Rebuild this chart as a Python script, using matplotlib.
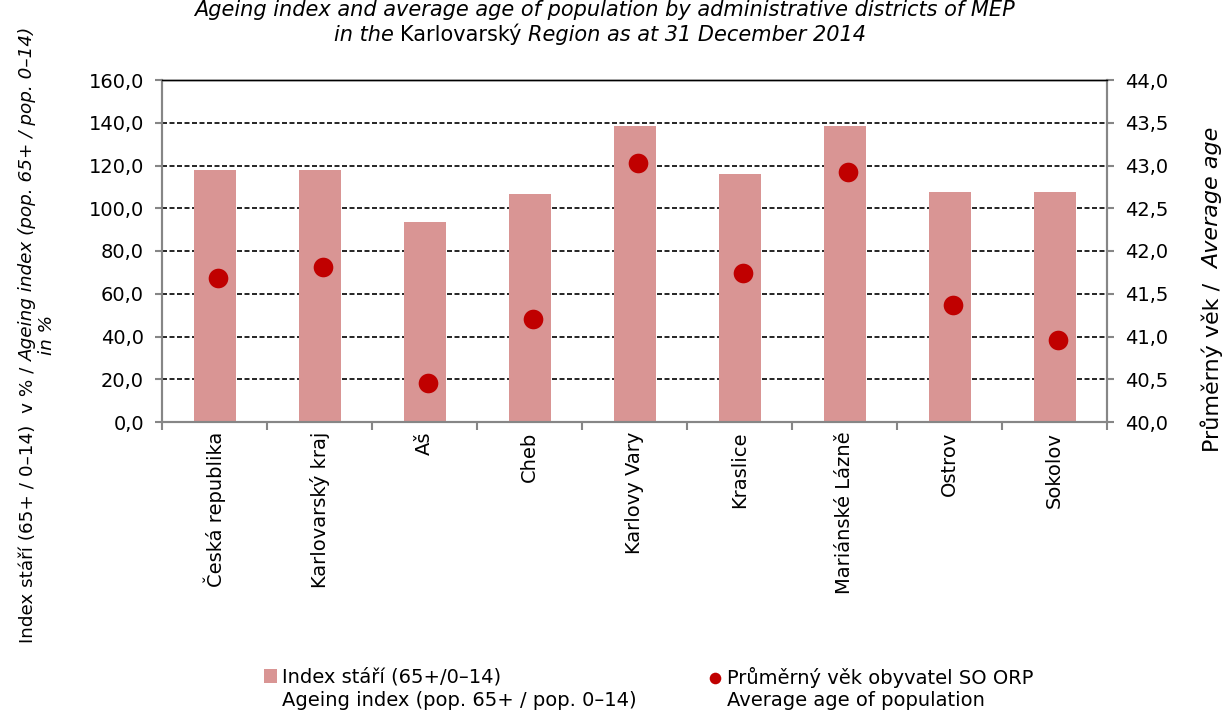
import matplotlib
matplotlib.use('Agg')
import numpy as np
import matplotlib.pyplot as plt
from matplotlib.ticker import FuncFormatter, FixedLocator

plt.rcParams['font.family'] = ['DejaVu Sans']

W, H = 1224, 711

# data
districts = ['Česká republika', 'Karlovarský kraj', 'Aš', 'Cheb', 'Karlovy Vary',
             'Kraslice', 'Mariánské Lázně', 'Ostrov', 'Sokolov']
ageing_index = [117.9, 117.9, 93.6, 106.7, 138.3, 116.0, 138.3, 107.6, 107.6]
average_age = [41.69, 41.81, 40.46, 41.21, 43.03, 41.74, 42.92, 41.37, 40.96]

left_ticks = [0, 20, 40, 60, 80, 100, 120, 140, 160]
right_ticks = [40.0, 40.5, 41.0, 41.5, 42.0, 42.5, 43.0, 43.5, 44.0]

bar_color = '#D99594'
dot_color = '#C00000'
spine_gray = '#868686'
fs = 14

fig = plt.figure(figsize=(W / 100, H / 100), dpi=100)
ax = fig.add_axes([162 / W, 1 - 422 / H, (1107 - 162) / W, (422 - 80) / H])
ax2 = ax.twinx()

x = np.arange(len(districts))
ax.bar(x, ageing_index, width=0.4, color=bar_color, zorder=2)
ax2.scatter(x + 0.03, average_age, s=200, color=dot_color, zorder=3, linewidths=0)

ax.set_xlim(-0.5, len(districts) - 0.5)
ax.set_ylim(0, 160)
ax2.set_ylim(40, 44)

comma = FuncFormatter(lambda v, p: ('%.1f' % v).replace('.', ','))
ax.yaxis.set_major_locator(FixedLocator(left_ticks))
ax.yaxis.set_major_formatter(comma)
ax2.yaxis.set_major_locator(FixedLocator(right_ticks))
ax2.yaxis.set_major_formatter(comma)

ax.set_xticks(x)
ax.set_xticklabels(districts, rotation=90, fontsize=fs)
ax.set_xticks(np.arange(len(districts) + 1) - 0.5, minor=True)
ax.tick_params(axis='x', which='major', length=0, pad=7)
ax.tick_params(axis='x', which='minor', length=6, width=1.5, color=spine_gray)
ax.tick_params(axis='y', length=5, width=1.5, color=spine_gray, labelsize=fs, pad=8)
ax2.tick_params(axis='y', length=5, width=1.5, color=spine_gray, labelsize=fs, pad=8)

# dashed horizontal grid behind the bars
ax.set_axisbelow(True)
ax.yaxis.grid(True, color='black', linestyle=(0, (3, 1.5)), linewidth=1.2, zorder=0)

for a in (ax, ax2):
    for side in ('left', 'right', 'bottom'):
        a.spines[side].set_color(spine_gray)
        a.spines[side].set_linewidth(1.5)
    a.spines['top'].set_color('black')
    a.spines['top'].set_linewidth(1.0)

renderer = fig.canvas.get_renderer()


def mixed_text(pieces, cx, cy, rotation=0, size=fs):
    # pieces of (text, style) laid end to end and centred on (cx, cy) in pixels from top-left
    space_px = size * 100 / 72 * 0.318
    items = []
    for s, st in pieces:
        lead = len(s) - len(s.lstrip(' '))
        trail = len(s) - len(s.rstrip(' '))
        t = fig.text(0, 0, s.strip(), fontsize=size, style=st, rotation=rotation,
                     rotation_mode='anchor', ha='left', va='baseline')
        bb = t.get_window_extent(renderer)
        w = bb.width if rotation == 0 else bb.height
        items.append((t, lead * space_px, w, trail * space_px))
    total = sum(a + b + c for _, a, b, c in items)
    pos = 0
    for t, lead, w, trail in items:
        pos += lead
        if rotation == 0:
            t.set_position(((cx - total / 2 + pos) / W, 1 - cy / H))
        else:
            t.set_position((cx / W, 1 - (cy + total / 2 - pos) / H))
        pos += w + trail


# title
fig.text(604 / W, 1 - 16 / H,
         'Ageing index and average age of population by administrative districts of MEP',
         ha='center', va='baseline', fontsize=15, style='italic')
mixed_text([('in the ', 'italic'), ('Karlovarský ', 'normal'),
            ('Region as at 31 December 2014', 'italic')], 600, 41, size=15)

# axis titles
mixed_text([('Index stáří (65+ / 0–14)  v % / ', 'normal'),
            ('Ageing index (pop. 65+ / pop. 0–14)', 'italic')], 33, 335, rotation=90, size=13.2)
mixed_text([('in %', 'italic')], 52, 335, rotation=90, size=13.2)
mixed_text([('Průměrný věk /  ', 'normal'), ('Average age', 'italic')],
           1219, 290, rotation=90, size=16)

# legend: one legend per series, second text line placed under the first
h1 = ax.bar([0], [0], width=0, color=bar_color)
h2 = ax2.scatter([], [], s=70, color=dot_color, linewidths=0)
legend_items = [
    (h1, 'Index stáří (65+/0–14)', 'Ageing index (pop. 65+ / pop. 0–14)', 264),
    (h2, 'Průměrný věk obyvatel SO ORP', 'Average age of population', 709),
]
legs = []
for handle, line1, line2, lx in legend_items:
    leg = fig.legend([handle], [line1], loc='center left',
                     bbox_to_anchor=(lx / W, 1 - 677 / H), frameon=False, fontsize=fs,
                     handlelength=0.65, handleheight=0.7, handletextpad=0.25,
                     borderpad=0, borderaxespad=0)
    legs.append((leg, line2))

fig.canvas.draw()
for leg, line2 in legs:
    bb = leg.get_texts()[0].get_window_extent(renderer)
    fig.text(bb.x0 / W, (bb.y0 - 4) / H, line2, fontsize=fs, ha='left', va='top')

fig.savefig('out.png', dpi=100)
